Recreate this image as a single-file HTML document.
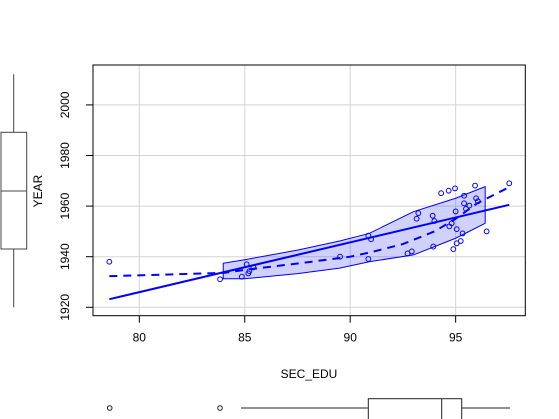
<!DOCTYPE html>
<html><head><meta charset="utf-8"><style>
body{margin:0;background:#fff;}
svg{display:block;font-family:"Liberation Sans",sans-serif;}
</style></head><body>
<svg id="c" width="559" height="419">
<rect width="559" height="419" fill="#fff"/>
<g id="grid"></g><g id="band"></g><g id="lines"></g><g id="pts"></g><g id="axes"></g>
<text x="309" y="378" font-size="12" text-anchor="middle">SEC_EDU</text>
<text transform="translate(42,191) rotate(-90)" font-size="12" text-anchor="middle">YEAR</text>
<g stroke="#444" fill="none">
<line x1="13.7" y1="74.3" x2="13.7" y2="132.3"/><line x1="13.7" y1="249" x2="13.7" y2="307.3"/>
<rect x="1" y="132.3" width="25.7" height="116.7"/><line x1="1" y1="191" x2="26.7" y2="191"/>
</g>
<g stroke="#222" fill="none">
<circle cx="109.7" cy="408" r="2.3"/><circle cx="220" cy="408" r="2.3"/>
<line x1="241" y1="408" x2="368.3" y2="408"/><line x1="461.7" y1="408" x2="510" y2="408"/>
<rect x="368.3" y="398.7" width="93.4" height="30"/><line x1="441.7" y1="398.7" x2="441.7" y2="420"/>
</g>
</svg>
<script>
const xs=[78.58,83.83,84.86,85.09,85.17,85.22,85.41,89.52,90.86,90.86,90.99,92.72,92.92,93.15,93.23,93.91,93.94,93.99,94.31,94.67,94.70,94.81,94.89,94.97,95.00,95.05,95.05,95.24,95.33,95.40,95.40,95.49,95.65,95.92,95.97,96.05,96.47,97.54];
const ys=[1938,1931.1,1932.1,1937,1933.4,1934.3,1935.8,1940,1939.1,1948.3,1946.9,1941.3,1942.1,1955,1957.2,1956.2,1944,1954.1,1965.1,1966.1,1952,1953.2,1943,1967,1957.9,1950.9,1945.3,1946.2,1949.2,1964.1,1961.1,1958.9,1960.2,1968.1,1963.1,1961.9,1950,1969];
const fitX=[78.58,97.54];
const fitY=[1923.2,1960.5];
const loessX=[78.58,84,85,87.5,90,91,92.5,94,95,96,97.54];
const loessY=[1932.3,1933.6,1934.8,1937.3,1940,1941.8,1945,1950,1955,1961,1967.5];
const bandX=[83.98,85,87.5,89.5,90.9,93,95,96.4];
const bandHi=[1937.4,1938.8,1942.6,1946.2,1949.2,1957.8,1963.1,1967.7];
const bandLo=[1931.3,1931.3,1933.3,1935.5,1938,1940.7,1947.3,1953.2];
const xTicks=[80,85,90,95];
const yTicks=[1920,1940,1960,1980,2000];
const L=93,R=525.3,T=65,B=315.7;
const X=v=>139.3+(v-80)*21.09, Y=v=>307.3-(v-1920)*2.53;
const NS="http://www.w3.org/2000/svg";
function mk(p,t,a){const e=document.createElementNS(NS,t);for(const k in a)e.setAttribute(k,a[k]);document.getElementById(p).appendChild(e);return e;}
xTicks.forEach(t=>{
 const g=mk('grid','line',{x1:X(t),x2:X(t),y1:T,y2:B,stroke:'#d3d3d3'});
 
 
 const tk=mk('axes','line',{x1:X(t),x2:X(t),y1:B,y2:B+7,stroke:'#000'});
 
 
 const tx=mk('axes','text',{x:X(t),y:B+26,'font-size':12,'text-anchor':'middle'});tx.textContent=t;
 
 
});
yTicks.forEach(t=>{
 const g=mk('grid','line',{x1:L,x2:R,y1:Y(t),y2:Y(t),stroke:'#d3d3d3'});
 
 
 const tk=mk('axes','line',{x1:L-7,x2:L,y1:Y(t),y2:Y(t),stroke:'#000'});
 
 
 const tx=mk('axes','text',{transform:`translate(${L-24},${Y(t)}) rotate(-90)`,'font-size':12,'text-anchor':'middle'});tx.textContent=t;
 
 
});
const fr=mk('axes','rect',{x:L,y:T,width:R-L,height:B-T,fill:'none',stroke:'#000'});


let bp=bandX.map((v,i)=>X(v)+','+Y(bandHi[i]));
for(let i=bandX.length-1;i>=0;i--)bp.push(X(bandX[i])+','+Y(bandLo[i]));
const bd=mk('band','polygon',{points:bp.join(' '),fill:'rgba(0,0,255,0.18)',stroke:'#00f','stroke-width':1});


const fl=mk('lines','line',{x1:X(fitX[0]),y1:Y(fitY[0]),x2:X(fitX[1]),y2:Y(fitY[1]),stroke:'#00f','stroke-width':2});


const lo=mk('lines','polyline',{points:loessX.map((v,i)=>X(v)+','+Y(loessY[i])).join(' '),fill:'none',stroke:'#00f','stroke-width':2,'stroke-dasharray':'8,6'});


xs.forEach((v,i)=>{
 const c=mk('pts','circle',{cx:X(v),cy:Y(ys[i]),r:2.4,fill:'none',stroke:'#00f','stroke-width':1});
 
 
});
</script>
</body></html>
